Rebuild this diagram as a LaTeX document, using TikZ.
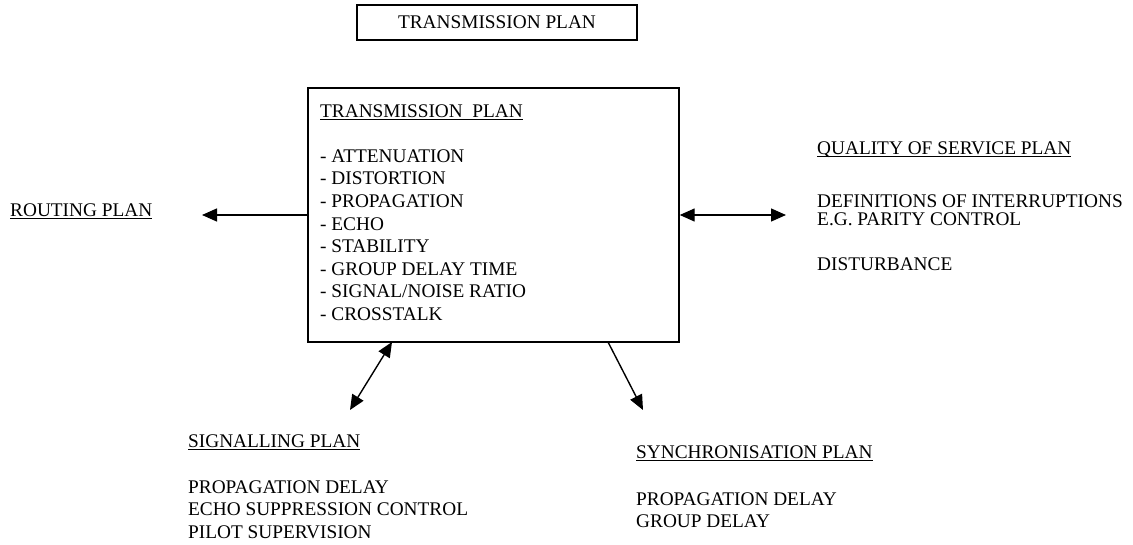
\documentclass[tikz,border=0pt]{standalone}
\usepackage{fontspec}
\setmainfont{Liberation Serif}
\usetikzlibrary{arrows.meta}

% underline drawn as a rule a fixed distance under the baseline
\newcommand\plainul[1]{\setbox0\hbox{#1}\rlap{\rule[-2.6pt]{\wd0}{0.9pt}}\box0}

\begin{document}
\begin{tikzpicture}[x=1pt,y=-1pt,
  txt/.style={anchor=base west,inner sep=0pt,font=\fontsize{19.3}{22.6}\selectfont},
  frame/.style={draw,line width=1.4pt,inner sep=0pt},
  link/.style={line width=1.4pt,-{Triangle[length=15pt,width=13pt]}},
  bilink/.style={line width=1.4pt,{Triangle[length=15pt,width=13pt]}-{Triangle[length=15pt,width=13pt]}}]
\useasboundingbox (0,0) rectangle (1133,544);

% title box
\node[frame,minimum width=280pt,minimum height=35pt,
      font=\fontsize{19.3}{22.6}\selectfont] (title) at (497,22.5) {TRANSMISSION PLAN};

% central plan box with its list
\node[frame,minimum width=371pt,minimum height=254pt] (main) at (493.5,215) {};
\node[txt] (mainlist) at (320,117) {\begin{tabular}[t]{@{}l@{}}
\plainul{TRANSMISSION\ \ PLAN}\\
\\
- ATTENUATION\\
- DISTORTION\\
- PROPAGATION\\
- ECHO\\
- STABILITY\\
- GROUP DELAY TIME\\
- SIGNAL/NOISE RATIO\\
- CROSSTALK
\end{tabular}};

% routing plan
\node[txt] (routing) at (10,216) {\plainul{ROUTING PLAN}};
\coordinate (routingend) at (202,215);
\draw[link] (main.west) -- (routingend);

% quality of service plan
\node[txt] (qos) at (817,154.5) {\plainul{QUALITY OF SERVICE PLAN}};
\node[txt] (qos1) at (817,207) {DEFINITIONS OF INTERRUPTIONS};
\node[txt] (qos2) at (817,225.3) {E.G. PARITY CONTROL};
\node[txt] (qos3) at (817,270) {DISTURBANCE};
\coordinate (qosend) at (786,215);
\draw[bilink] (main.east) -- (qosend);

% signalling plan
\node[txt] (sig) at (188,447) {\plainul{SIGNALLING PLAN}};
\node[txt] (sig1) at (188,493) {\begin{tabular}[t]{@{}l@{}}
PROPAGATION DELAY\\
ECHO SUPPRESSION CONTROL\\
PILOT SUPERVISION
\end{tabular}};
\coordinate (sigstart) at (392,342);
\coordinate (sigend) at (350,410);
\draw[bilink] (sigstart) -- (sigend);

% synchronisation plan
\node[txt] (sync) at (636,458) {\plainul{SYNCHRONISATION PLAN}};
\node[txt] (sync1) at (636,505) {\begin{tabular}[t]{@{}l@{}}
PROPAGATION DELAY\\
GROUP DELAY
\end{tabular}};
\coordinate (syncstart) at (608,342);
\coordinate (syncend) at (643,410);
\draw[link] (syncstart) -- (syncend);
\end{tikzpicture}
\end{document}
